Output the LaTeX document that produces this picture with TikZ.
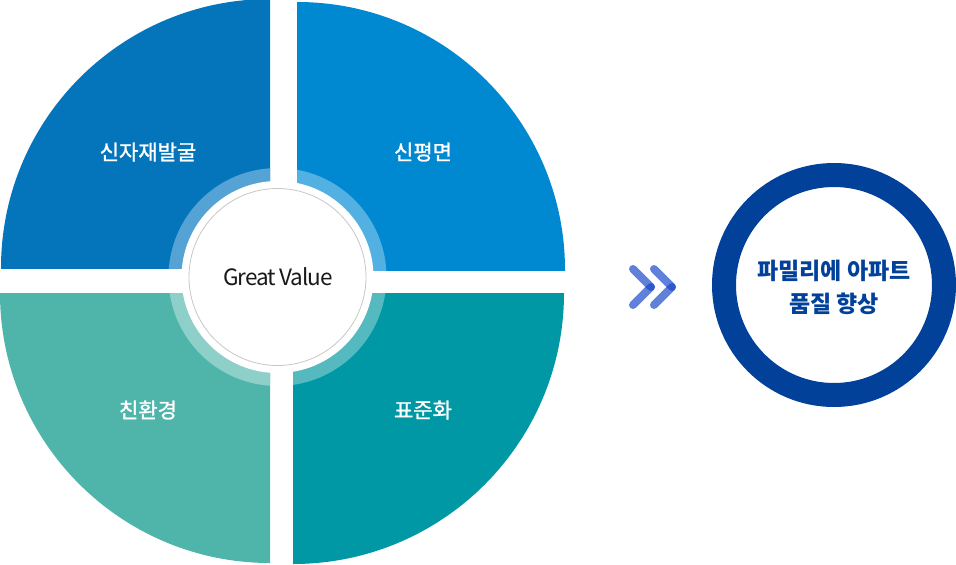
\documentclass[tikz,border=0pt]{standalone}
\usepackage{fontspec}
\newfontfamily\kr{Noto Sans CJK KR}
\newfontfamily\krm[FakeBold=1.3]{Noto Sans CJK KR}
\newfontfamily\krgv[LetterSpace=-5]{Noto Sans CJK KR}
\definecolor{tlc}{HTML}{0575BB}
\definecolor{tlr}{HTML}{55A2D4}
\definecolor{trc}{HTML}{0088D1}
\definecolor{trr}{HTML}{52B0E2}
\definecolor{blc}{HTML}{4FB5AB}
\definecolor{blr}{HTML}{8ED0C9}
\definecolor{brc}{HTML}{0098A4}
\definecolor{brr}{HTML}{55B9C0}
\definecolor{navy}{HTML}{02419A}
\definecolor{chev}{HTML}{1446C8}
\tikzset{
  qlabel/.style={text=white,font=\krm\fontsize{21}{24}\selectfont,inner sep=0pt},
  chevarm/.style={draw=chev,draw opacity=0.68,line width=8pt,line cap=round},
}
\begin{document}
\begin{tikzpicture}[x=1pt,y=-1pt]
\useasboundingbox (0,0) rectangle (956,565);
\coordinate (C) at (277.5,277);
% top-left
\begin{scope}
\clip (0,0) rectangle (270,268);
\fill[tlc] (270,268) circle[radius=269];
\fill[tlr] (C) circle[radius=109];
\end{scope}
% top-right
\begin{scope}
\clip (297,0) rectangle (570,270);
\fill[trc] (297,270) circle[radius=268];
\fill[trr] (C) circle[radius=109];
\end{scope}
% bottom-left
\begin{scope}
\clip (0,293) rectangle (270,565);
\fill[blc] (270,293) circle[radius=270];
\fill[blr] (C) circle[radius=109];
\end{scope}
% bottom-right
\begin{scope}
\clip (293,293) rectangle (570,565);
\fill[brc] (293,293) circle[radius=271];
\fill[brr] (C) circle[radius=109];
\end{scope}
\fill[white] (C) circle[radius=96];
\node[circle,draw=black!22,line width=0.8pt,fill=white,minimum size=177pt,inner sep=0pt] (gv) at (C) {};
\node[font=\krgv\fontsize{22.5}{26}\selectfont,text=black!90,inner sep=0pt] (gvt) at (278,277) {Great Value};
\node[qlabel] (q1) at (148,152) {신자재발굴};
\node[qlabel] (q2) at (423,152) {신평면};
\node[qlabel] (q3) at (148,410) {친환경};
\node[qlabel] (q4) at (423,410) {표준화};
% chevrons
\coordinate (a1) at (633,269);
\coordinate (a2) at (651,287);
\coordinate (a3) at (633,305);
\coordinate (b1) at (654,269);
\coordinate (b2) at (672,287);
\coordinate (b3) at (654,305);
\draw[chevarm] (a1) -- (a2);
\draw[chevarm] (a3) -- (a2);
\draw[chevarm] (b1) -- (b2);
\draw[chevarm] (b3) -- (b2);
% result ring
\node[circle,draw=navy,line width=24pt,minimum size=220pt,inner sep=0pt] (res) at (834,285) {};
\node[align=center,text=navy,font=\kr\bfseries\fontsize{23}{33}\selectfont,inner sep=0pt] (rt) at (834,287) {파밀리에 아파트\\품질 향상};
\end{tikzpicture}
\end{document}
